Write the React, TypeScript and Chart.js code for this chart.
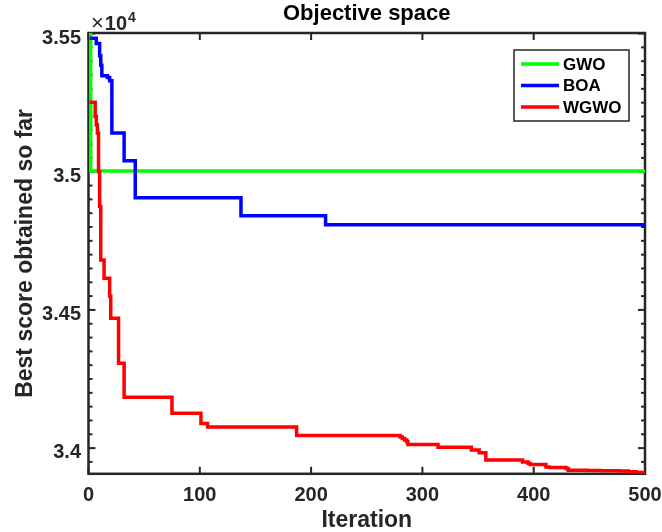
import React, { useEffect, useRef } from 'react';
import { Chart, registerables } from 'chart.js';

Chart.register(...registerables);

// ---- data ----
const gwoIter = [1, 2, 500];
const gwoScore = [35502, 35003, 35003];

const boaIter = [1, 7, 10, 11, 12, 17, 19, 21, 32, 42, 137, 213, 500];
const boaScore = [35483, 35464, 35420, 35385, 35347, 35341, 35329, 35140, 35040, 34906, 34841, 34808, 34808];

const wgwoIter = [1, 6, 7, 8, 9, 10, 11, 14, 19, 20, 27, 32, 75, 101, 107, 187, 280, 282, 284, 286, 287, 314, 344, 351, 357, 390, 395, 397, 411, 414, 429, 431, 448, 460, 477, 485, 492, 497, 500];
const wgwoScore = [35251, 35200, 35170, 35140, 35000, 34874, 34681, 34615, 34550, 34470, 34307, 34184, 34126, 34089, 34076, 34046, 34040, 34035, 34029, 34023, 34013, 34003, 33993, 33983, 33957, 33950, 33944, 33941, 33932, 33930, 33926, 33920, 33919, 33918, 33917, 33914, 33912, 33910, 33907];

const seriesNames = ['GWO', 'BOA', 'WGWO'];
const seriesColors = ['#00ff00', '#0000ff', '#ff0000'];

const xMin = 0;
const xMax = 500;
const yMin = 33907;
const yMax = 35502;
const xTicks = [0, 100, 200, 300, 400, 500];
const yTicks = [34000, 34500, 35000, 35500];
const yTickLabels = ['3.4', '3.45', '3.5', '3.55'];
const yMinorStep = 50;

const titleText = 'Objective space';
const xLabelText = 'Iteration';
const yLabelText = 'Best score obtained so far';

const FONT = '"Liberation Sans", Arial, Helvetica, sans-serif';
const AXIS_COLOR = '#262626';

function toPoints(xs: number[], ys: number[]) {
  return xs.map((x, i) => ({ x, y: ys[i] }));
}

const framePlugin = {
  id: 'matlabFrame',
  beforeDatasetsDraw(chart: any) {
    const { ctx, chartArea: a, scales } = chart;
    const xs = scales.x;
    const ys = scales.y;
    ctx.save();
    ctx.strokeStyle = AXIS_COLOR;
    ctx.lineCap = 'butt';
    ctx.lineWidth = 2;
    const seg = (x1: number, y1: number, x2: number, y2: number) => {
      ctx.beginPath();
      ctx.moveTo(x1, y1);
      ctx.lineTo(x2, y2);
      ctx.stroke();
    };
    for (const v of xTicks) {
      const px = xs.getPixelForValue(v);
      seg(px, a.bottom, px, a.bottom - 7);
      seg(px, a.top, px, a.top + 7);
    }
    for (let v = Math.ceil(yMin / yMinorStep) * yMinorStep; v <= yMax; v += yMinorStep) {
      const py = ys.getPixelForValue(v);
      const len = yTicks.includes(v) ? 7 : 4;
      seg(a.left, py, a.left + len, py);
      seg(a.right, py, a.right - len, py);
    }
    ctx.lineWidth = 2.5;
    ctx.strokeRect(a.left, a.top, a.right - a.left, a.bottom - a.top);

    // tick labels
    ctx.fillStyle = AXIS_COLOR;
    ctx.font = `bold 20px ${FONT}`;
    ctx.textBaseline = 'alphabetic';
    ctx.textAlign = 'center';
    for (const v of xTicks) {
      const px = xs.getPixelForValue(v);
      ctx.fillText(String(v), px, 501);
    }
    ctx.textAlign = 'right';
    yTicks.forEach((v, i) => {
      const py = ys.getPixelForValue(v);
      ctx.fillText(yTickLabels[i], 81, py + 10);
    });
    // exponent label
    ctx.textAlign = 'left';
    ctx.font = `22px ${FONT}`;
    ctx.fillText('\u00d7', 91, 30);
    let xPos = 91 + ctx.measureText('\u00d7').width + 1;
    ctx.font = `bold 20px ${FONT}`;
    ctx.fillText('10', xPos, 30);
    xPos += ctx.measureText('10').width + 1;
    ctx.font = `bold 14px ${FONT}`;
    ctx.fillText('4', xPos, 22);
    ctx.restore();
  },
  afterDraw(chart: any) {
    const { ctx, chartArea: a } = chart;
    ctx.save();
    ctx.fillStyle = '#000000';
    ctx.font = `bold 22px ${FONT}`;
    ctx.textAlign = 'center';
    ctx.textBaseline = 'alphabetic';
    ctx.fillText(titleText, (a.left + a.right) / 2, 20);
    ctx.fillStyle = AXIS_COLOR;
    ctx.font = `bold 23px ${FONT}`;
    ctx.fillText(xLabelText, (a.left + a.right) / 2, 527);
    ctx.save();
    ctx.translate(32, (a.top + a.bottom) / 2);
    ctx.rotate(-Math.PI / 2);
    ctx.fillText(yLabelText, 0, 0);
    ctx.restore();

    // legend
    const bx = 514, by = 50, bw = 115, bh = 71;
    ctx.fillStyle = '#ffffff';
    ctx.fillRect(bx, by, bw, bh);
    ctx.strokeStyle = AXIS_COLOR;
    ctx.lineWidth = 1.5;
    ctx.strokeRect(bx, by, bw, bh);
    const rowY = [64, 85.5, 107];
    ctx.font = `bold 17px ${FONT}`;
    ctx.textAlign = 'left';
    ctx.textBaseline = 'middle';
    seriesNames.forEach((name, i) => {
      ctx.strokeStyle = seriesColors[i];
      ctx.lineWidth = 3.5;
      ctx.beginPath();
      ctx.moveTo(521, rowY[i]);
      ctx.lineTo(559, rowY[i]);
      ctx.stroke();
      ctx.fillStyle = '#000000';
      ctx.fillText(name, 563, rowY[i] + 1);
    });
    ctx.restore();
  },
};

export default function App() {
  const canvasRef = useRef<HTMLCanvasElement | null>(null);

  useEffect(() => {
    const canvas = canvasRef.current;
    if (!canvas) return;
    const mk = (label: string, xsArr: number[], ysArr: number[], color: string) => ({
      label,
      data: toPoints(xsArr, ysArr),
      borderColor: color,
      backgroundColor: color,
      borderWidth: 3.5,
      stepped: true as const,
      pointRadius: 0,
      fill: false,
      tension: 0,
    });
    const chart = new Chart(canvas, {
      type: 'line',
      data: {
        datasets: [
          mk(seriesNames[2], wgwoIter, wgwoScore, seriesColors[2]),
          mk(seriesNames[1], boaIter, boaScore, seriesColors[1]),
          mk(seriesNames[0], gwoIter, gwoScore, seriesColors[0]),
        ],
      },
      options: {
        animation: false,
        responsive: false,
        maintainAspectRatio: false,
        devicePixelRatio: 1,
        layout: { padding: { left: 88.5, top: 33, right: 17, bottom: 58.2 } },
        scales: {
          x: { type: 'linear', min: xMin, max: xMax, display: false },
          y: { type: 'linear', min: yMin, max: yMax, display: false },
        },
        plugins: {
          legend: { display: false },
          title: { display: false },
          tooltip: { enabled: false },
        },
        elements: { point: { radius: 0 } },
      },
      plugins: [framePlugin],
    });
    return () => chart.destroy();
  }, []);

  return (
    <div style={{ position: 'fixed', left: 0, top: 0, width: 662, height: 532, background: '#ffffff' }}>
      <canvas ref={canvasRef} width={662} height={532} style={{ display: 'block' }} />
    </div>
  );
}
